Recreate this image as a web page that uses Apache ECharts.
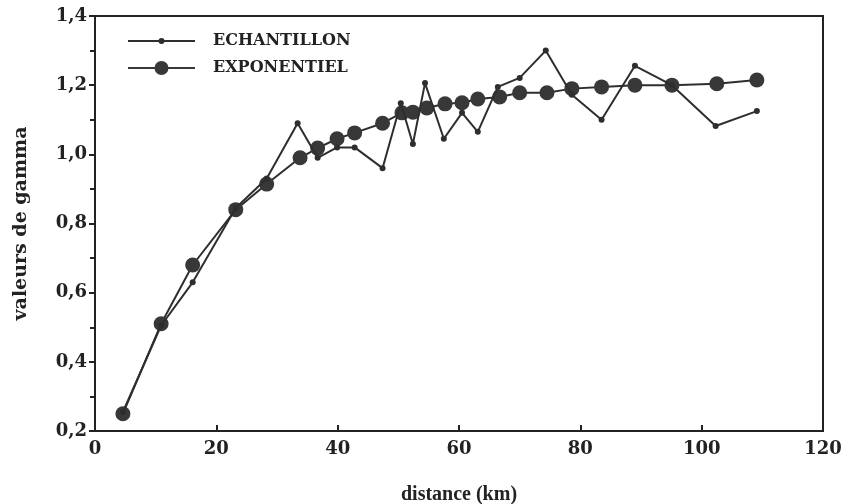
<!DOCTYPE html>
<html>
<head>
<meta charset="utf-8">
<script src="https://cdn.jsdelivr.net/npm/echarts@6/dist/echarts.min.js"></script>
<style>
  html, body { margin: 0; padding: 0; background: #fff; }
  #chart { width: 843px; height: 504px; }
</style>
</head>
<body>
<div id="chart"></div>
<script>
// echantillon (valeurs observées)
const echDist = [4.6, 10.9, 16.1, 23.2, 28.3, 33.4, 36.7, 39.9, 42.8, 47.4, 50.4, 52.4, 54.4, 57.5, 60.5, 63.1, 66.4, 70.0, 74.3, 78.6, 83.5, 89.0, 95.1, 102.3, 109.1]
const echGamma = [0.255, 0.505, 0.63, 0.845, 0.93, 1.09, 0.99, 1.02, 1.02, 0.96, 1.148, 1.03, 1.206, 1.045, 1.12, 1.065, 1.195, 1.221, 1.30, 1.172, 1.10, 1.256, 1.20, 1.082, 1.125]

// modèle exponentiel
const expDist = [4.6, 10.9, 16.1, 23.2, 28.3, 33.8, 36.7, 39.9, 42.8, 47.4, 50.6, 52.4, 54.7, 57.7, 60.5, 63.1, 66.7, 70.0, 74.5, 78.6, 83.5, 89.0, 95.1, 102.5, 109.1]
const expGamma = [0.25, 0.51, 0.68, 0.84, 0.914, 0.99, 1.018, 1.045, 1.062, 1.09, 1.12, 1.122, 1.134, 1.146, 1.149, 1.16, 1.166, 1.178, 1.178, 1.19, 1.195, 1.2, 1.2, 1.204, 1.215]

const toPairs = (xs, ys) => xs.map((x, i) => [x, ys[i]])

const serif = 'Liberation Serif'
const wide = 'DejaVu Serif'
const ink = '#2e2e2e'

// icônes de légende : trait + petit point / trait + gros point
const iconSmall = 'path://M0,2h67v2h-67z M30.5,3a3,3 0 1,1 6,0a3,3 0 1,1 -6,0z'
const iconBig = 'path://M0,6h67v2h-67z M26.5,7a7,7 0 1,1 14,0a7,7 0 1,1 -14,0z'

const chart = echarts.init(document.getElementById('chart'))
const option = {
  backgroundColor: '#fff',
  animation: false,
  grid: {
    left: 95,
    right: 20,
    top: 16,
    bottom: 73,
    outerBoundsMode: 'none',
    show: true,
    borderColor: '#222',
    borderWidth: 2
  },
  legend: {
    orient: 'vertical',
    left: 123,
    top: 28,
    itemWidth: 67,
    itemHeight: 14,
    itemGap: 11,
    symbolKeepAspect: true,
    textStyle: {
      fontFamily: wide,
      fontWeight: 'bold',
      fontSize: 16,
      color: '#222',
      padding: [0, 0, 0, 13]
    },
    data: [
      { name: 'ECHANTILLON', icon: iconSmall },
      { name: 'EXPONENTIEL', icon: iconBig }
    ]
  },
  xAxis: {
    type: 'value',
    min: 0,
    max: 120,
    interval: 20,
    name: 'distance (km)',
    nameLocation: 'middle',
    nameGap: 54,
    nameTextStyle: { fontFamily: serif, fontWeight: 'bold', fontSize: 20, color: '#222' },
    axisLine: { lineStyle: { color: '#222', width: 2 } },
    axisTick: { inside: true, length: 6, lineStyle: { color: '#222', width: 2 } },
    axisLabel: { fontFamily: wide, fontWeight: 'bold', fontSize: 18, color: '#222', margin: 9 },
    splitLine: { show: false }
  },
  yAxis: {
    type: 'value',
    min: 0.2,
    max: 1.4,
    interval: 0.2,
    name: 'valeurs de gamma',
    nameLocation: 'middle',
    nameGap: 64,
    nameTextStyle: { fontFamily: wide, fontWeight: 'bold', fontSize: 19, color: '#222' },
    axisLine: { lineStyle: { color: '#222', width: 2 } },
    axisTick: { length: 6, lineStyle: { color: '#222', width: 2 } },
    minorTick: { show: true, splitNumber: 2, length: 5, lineStyle: { color: '#222', width: 2 } },
    axisLabel: {
      fontFamily: wide,
      fontWeight: 'bold',
      fontSize: 18,
      color: '#222',
      margin: 8,
      formatter: (v) => v.toFixed(1).replace('.', ',')
    },
    splitLine: { show: false }
  },
  series: [
    {
      name: 'ECHANTILLON',
      type: 'line',
      data: toPairs(echDist, echGamma),
      symbol: 'circle',
      symbolSize: 6,
      lineStyle: { color: ink, width: 2 },
      itemStyle: { color: ink },
      z: 3
    },
    {
      name: 'EXPONENTIEL',
      type: 'line',
      data: toPairs(expDist, expGamma),
      symbol: 'circle',
      symbolSize: 15,
      lineStyle: { color: ink, width: 2 },
      itemStyle: { color: '#383838' },
      z: 2
    }
  ]
}
chart.setOption(option)
</script>
</body>
</html>
